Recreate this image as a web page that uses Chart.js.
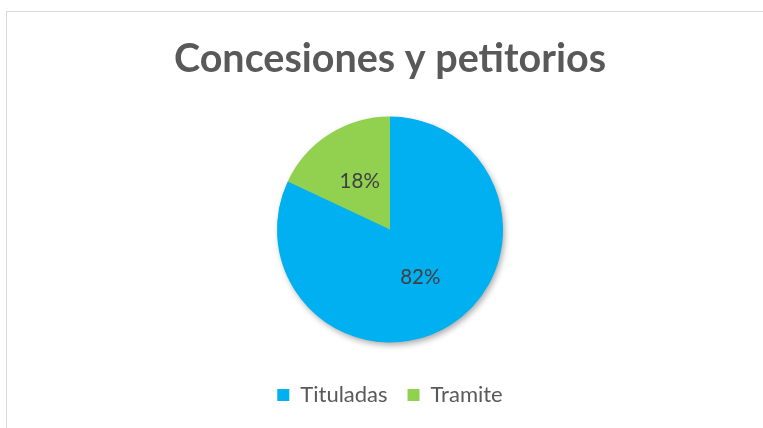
<!DOCTYPE html>
<html lang="es">
<head>
    <meta charset="UTF-8">
    <title>Concesiones y petitorios</title>
    <script src="https://cdn.jsdelivr.net/npm/chart.js"></script>
    <style>
        body {
            margin: 0;
            background: #ffffff;
            overflow: hidden;
        }
        .frame {
            position: absolute;
            left: 6px;
            top: 11px;
            width: 800px;
            height: 480px;
            border: 1px solid #d9d9d9;
        }
        .chart-box {
            position: absolute;
            left: 0;
            top: 0;
            width: 763px;
            height: 428px;
        }
    </style>
</head>
<body>
    <div class="frame"></div>
    <div class="chart-box">
        <canvas id="pieChart" width="763" height="428"></canvas>
    </div>

    <script>
        const categories = ['Tituladas', 'Tramite'];
        const shares = [82, 18];
        const sliceColors = ['#00B0F0', '#92D050'];

        // etiquetas de porcentaje dentro de cada sector
        const pctLabels = {
            id: 'pctLabels',
            afterDatasetsDraw(chart) {
                const ctx = chart.ctx;
                const meta = chart.getDatasetMeta(0);
                const total = shares.reduce((a, b) => a + b, 0);
                ctx.save();
                ctx.font = '20.5px Lato, "Open Sans", sans-serif';
                ctx.fillStyle = '#404040';
                ctx.textAlign = 'center';
                ctx.textBaseline = 'middle';
                meta.data.forEach((arc, i) => {
                    const pos = arc.tooltipPosition();
                    ctx.fillText(Math.round(shares[i] / total * 100) + '%', pos.x, pos.y);
                });
                ctx.restore();
            }
        };

        // sombra suave bajo el pastel
        const pieShadow = {
            id: 'pieShadow',
            beforeDatasetsDraw(chart) {
                const arc = chart.getDatasetMeta(0).data[0];
                if (!arc) return;
                const ctx = chart.ctx;
                ctx.save();
                ctx.shadowColor = 'rgba(0,0,0,0.35)';
                ctx.shadowBlur = 6;
                ctx.shadowOffsetX = 2;
                ctx.shadowOffsetY = 3;
                ctx.fillStyle = sliceColors[0];
                ctx.beginPath();
                ctx.arc(arc.x, arc.y, arc.outerRadius - 0.5, 0, Math.PI * 2);
                ctx.fill();
                ctx.restore();
            }
        };

        new Chart(document.getElementById('pieChart'), {
            type: 'pie',
            data: {
                labels: categories,
                datasets: [{
                    data: shares,
                    backgroundColor: sliceColors,
                    borderWidth: 0,
                    radius: 113
                }]
            },
            options: {
                responsive: false,
                animation: false,
                layout: {
                    padding: { left: 17, bottom: 12 }
                },
                plugins: {
                    title: {
                        display: true,
                        text: 'Concesiones y petitorios',
                        color: '#595959',
                        font: { family: 'Lato, "Open Sans", sans-serif', size: 39.5, weight: 'bold', lineHeight: 1.2 },
                        padding: { top: 36, bottom: 11.6 }
                    },
                    legend: {
                        position: 'bottom',
                        labels: {
                            color: '#595959',
                            font: { family: 'Lato, "Open Sans", sans-serif', size: 22 },
                            boxWidth: 12,
                            boxHeight: 12,
                            padding: 20
                        }
                    },
                    tooltip: { enabled: false }
                }
            },
            plugins: [pieShadow, pctLabels]
        });
    </script>
</body>
</html>
